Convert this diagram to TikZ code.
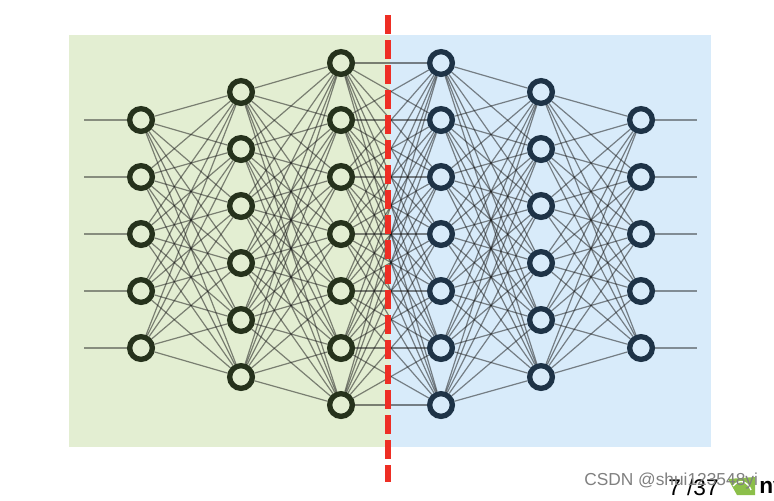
\documentclass[tikz,border=0pt]{standalone}
\usepackage{fontspec}
\setmainfont{Liberation Sans}
\usetikzlibrary{backgrounds}
\definecolor{bandgreen}{HTML}{E3EED2}
\definecolor{bandblue}{HTML}{D8EBFA}
\definecolor{ringgreen}{HTML}{26321C}
\definecolor{ringblue}{HTML}{1E3347}
\definecolor{cutred}{HTML}{EE2E24}
\definecolor{logogreen}{HTML}{8CBF4A}
\tikzset{
  neuron/.style ={circle,draw,line width=4pt,minimum size=17pt,inner sep=0pt},
  neuronl/.style={neuron,draw=ringgreen,fill=bandgreen},
  neuronr/.style={neuron,draw=ringblue,fill=bandblue},
  link/.style   ={draw=black!90,opacity=0.52,line width=0.9pt},
  stub/.style   ={draw=black!90,opacity=0.45,line width=1.3pt},
  cut/.style    ={draw=cutred,line width=4.5pt,dash pattern=on 14.25pt off 4.5pt},
  water/.style  ={font=\fontsize{13pt}{15pt}\selectfont,text=black!50,inner sep=0pt,anchor=west},
}
\begin{document}
\begin{tikzpicture}[x=0.75pt,y=-0.75pt]
  \useasboundingbox (0,0) rectangle (774,500);

  % neurons, one column per layer
  \foreach \col/\xpos/\num/\ytop/\kind in
      {1/141/5/120/neuronl,2/241/6/92/neuronl,3/341/7/63/neuronl,
       4/441/7/63/neuronr,5/541/6/92/neuronr,6/641/5/120/neuronr}
    \foreach \row in {1,...,\num}
      \node[\kind] (n\col-\row) at (\xpos,{\ytop+(\row-1)*57}) {};

  % free ends of the input and output lines
  \foreach \row in {1,...,5} {
    \coordinate (in\row)  at (84,{120+(\row-1)*57});
    \coordinate (out\row) at (697,{120+(\row-1)*57});
  }

  \begin{scope}[on background layer]
    \fill[bandgreen] (69,35) rectangle (390,447);
    \fill[bandblue]  (390,35) rectangle (711,447);
    \foreach \col/\next/\numa/\numb in {1/2/5/6,2/3/6/7,3/4/7/7,4/5/7/6,5/6/6/5}
      \foreach \i in {1,...,\numa}
        \foreach \j in {1,...,\numb}
          \draw[link] (n\col-\i) -- (n\next-\j);
    \foreach \row in {1,...,5} {
      \draw[stub] (in\row) -- (n1-\row);
      \draw[stub] (n6-\row) -- (out\row);
    }
  \end{scope}

  \coordinate (cuttop) at (388,15);
  \coordinate (cutend) at (388,482);
  \draw[cut] (cuttop) -- (cutend);

  % footer of the slide
  \node[anchor=west,inner sep=0pt,font=\fontsize{17pt}{19pt}\selectfont] (page) at (668,487) {7 /37};
  \fill[logogreen] (728,479) -- (755,477) -- (755,495) -- (737,495) -- cycle;
  \draw[white,line width=1pt] (733,486) .. controls (740,478) and (748,482) .. (751,490);
  \node[anchor=west,inner sep=0pt,font=\fontsize{17pt}{19pt}\selectfont\bfseries] (brand) at (759,487) {nv};
  \node[water] (wmark) at (584,481) {CSDN @shui123548yi};
\end{tikzpicture}
\end{document}
